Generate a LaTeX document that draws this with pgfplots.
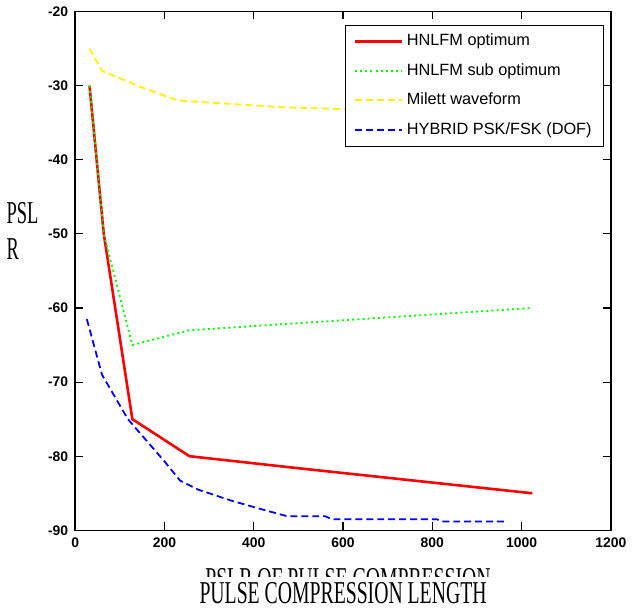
\documentclass[border=0pt]{standalone}
\usepackage{pgfplots}
\pgfplotsset{compat=1.18}
\usetikzlibrary{calc}
\usepackage{graphicx}
\usepackage{fontspec}
\setmainfont{Liberation Serif}
\newfontfamily\tickfont{Liberation Sans}
\begin{document}
\begin{tikzpicture}
\begin{axis}[
  scale only axis,
  width=269.5pt, height=261pt,
  xmin=0, xmax=1200, ymin=-90, ymax=-20,
  xtick={0,200,...,1200}, ytick={-90,-80,...,-20},
  tick align=inside, tick pos=both,
  major tick length=4pt,
  axis line style={line width=0.8pt},
  every tick/.style={black, line width=0.6pt},
  /pgf/number format/assume math mode=true,
  /pgf/number format/1000 sep={},
  ticklabel style={font=\tickfont\bfseries\fontsize{7}{8}\selectfont},
  xlabel={\scalebox{0.62}[1]{\fontsize{16}{18}\selectfont PULSE COMPRESSION LENGTH}},
  xlabel style={inner sep=0pt, yshift=-14pt, name=xl},
  ylabel={\fontsize{16}{19}\selectfont\begin{tabular}{@{}l@{}}\scalebox{0.58}[1]{PSL}\\[-1pt]\scalebox{0.58}[1]{R}\end{tabular}},
  ylabel style={rotate=-90, at={(ticklabel cs:0.572)}, anchor=east, xshift=2pt},
  legend style={at={(0.987,0.975)}, anchor=north east, draw=black,
    font=\tickfont\fontsize{8.2}{12}\selectfont, row sep=3.4pt, inner xsep=4pt, inner ysep=2.5pt},
  legend cell align=left,
  legend image code/.code={\draw[mark repeat=2,mark phase=2,#1] plot coordinates {(0pt,0pt) (11.75pt,0pt) (23.5pt,0pt)};},
]
\addplot[red, line width=1.3pt] coordinates {
  (32,-30) (64,-50) (128,-75) (256,-80) (512,-81.7) (1024,-85)};
\addlegendentry{HNLFM optimum}
\addplot[green, line width=0.9pt, dash pattern=on 1pt off 1.6pt] coordinates {
  (32,-30) (64,-50) (128,-65) (256,-63) (512,-62) (1024,-60)};
\addlegendentry{HNLFM sub optimum}
\addplot[yellow, line width=0.9pt, dash pattern=on 3.5pt off 2pt] coordinates {
  (32,-25) (60,-28) (148,-30.2) (229,-32) (460,-32.9) (563,-33.1) (1024,-34)};
\addlegendentry{Milett waveform}
\addplot[blue, line width=0.9pt, dash pattern=on 3.5pt off 2pt] coordinates {
  (26,-61.5) (60,-69) (118,-75) (200,-80.7) (235,-83.3) (275,-84.5) (350,-86)
  (420,-87.2) (475,-88.1) (560,-88.1) (575,-88.5) (810,-88.5) (820,-88.8) (960,-88.8)};
\addlegendentry{HYBRID PSK/FSK (DOF)}
\end{axis}
% cropped, garbled caption fragment above the x label, as in the source figure
\begin{scope}
  \clip ($(xl.north west)+(-10pt,2.5pt)$) rectangle ($(xl.north east)+(10pt,8pt)$);
  \node[anchor=north, inner sep=0pt, font=\fontsize{16}{18}\selectfont]
    at ($(xl.north)+(2.5pt,7pt)$) {\scalebox{0.62}[1]{PSLR OF PULSE COMPRESSION}};
\end{scope}
\path ($(xl.south)+(0,-2.5pt)$);
\end{tikzpicture}
\end{document}
